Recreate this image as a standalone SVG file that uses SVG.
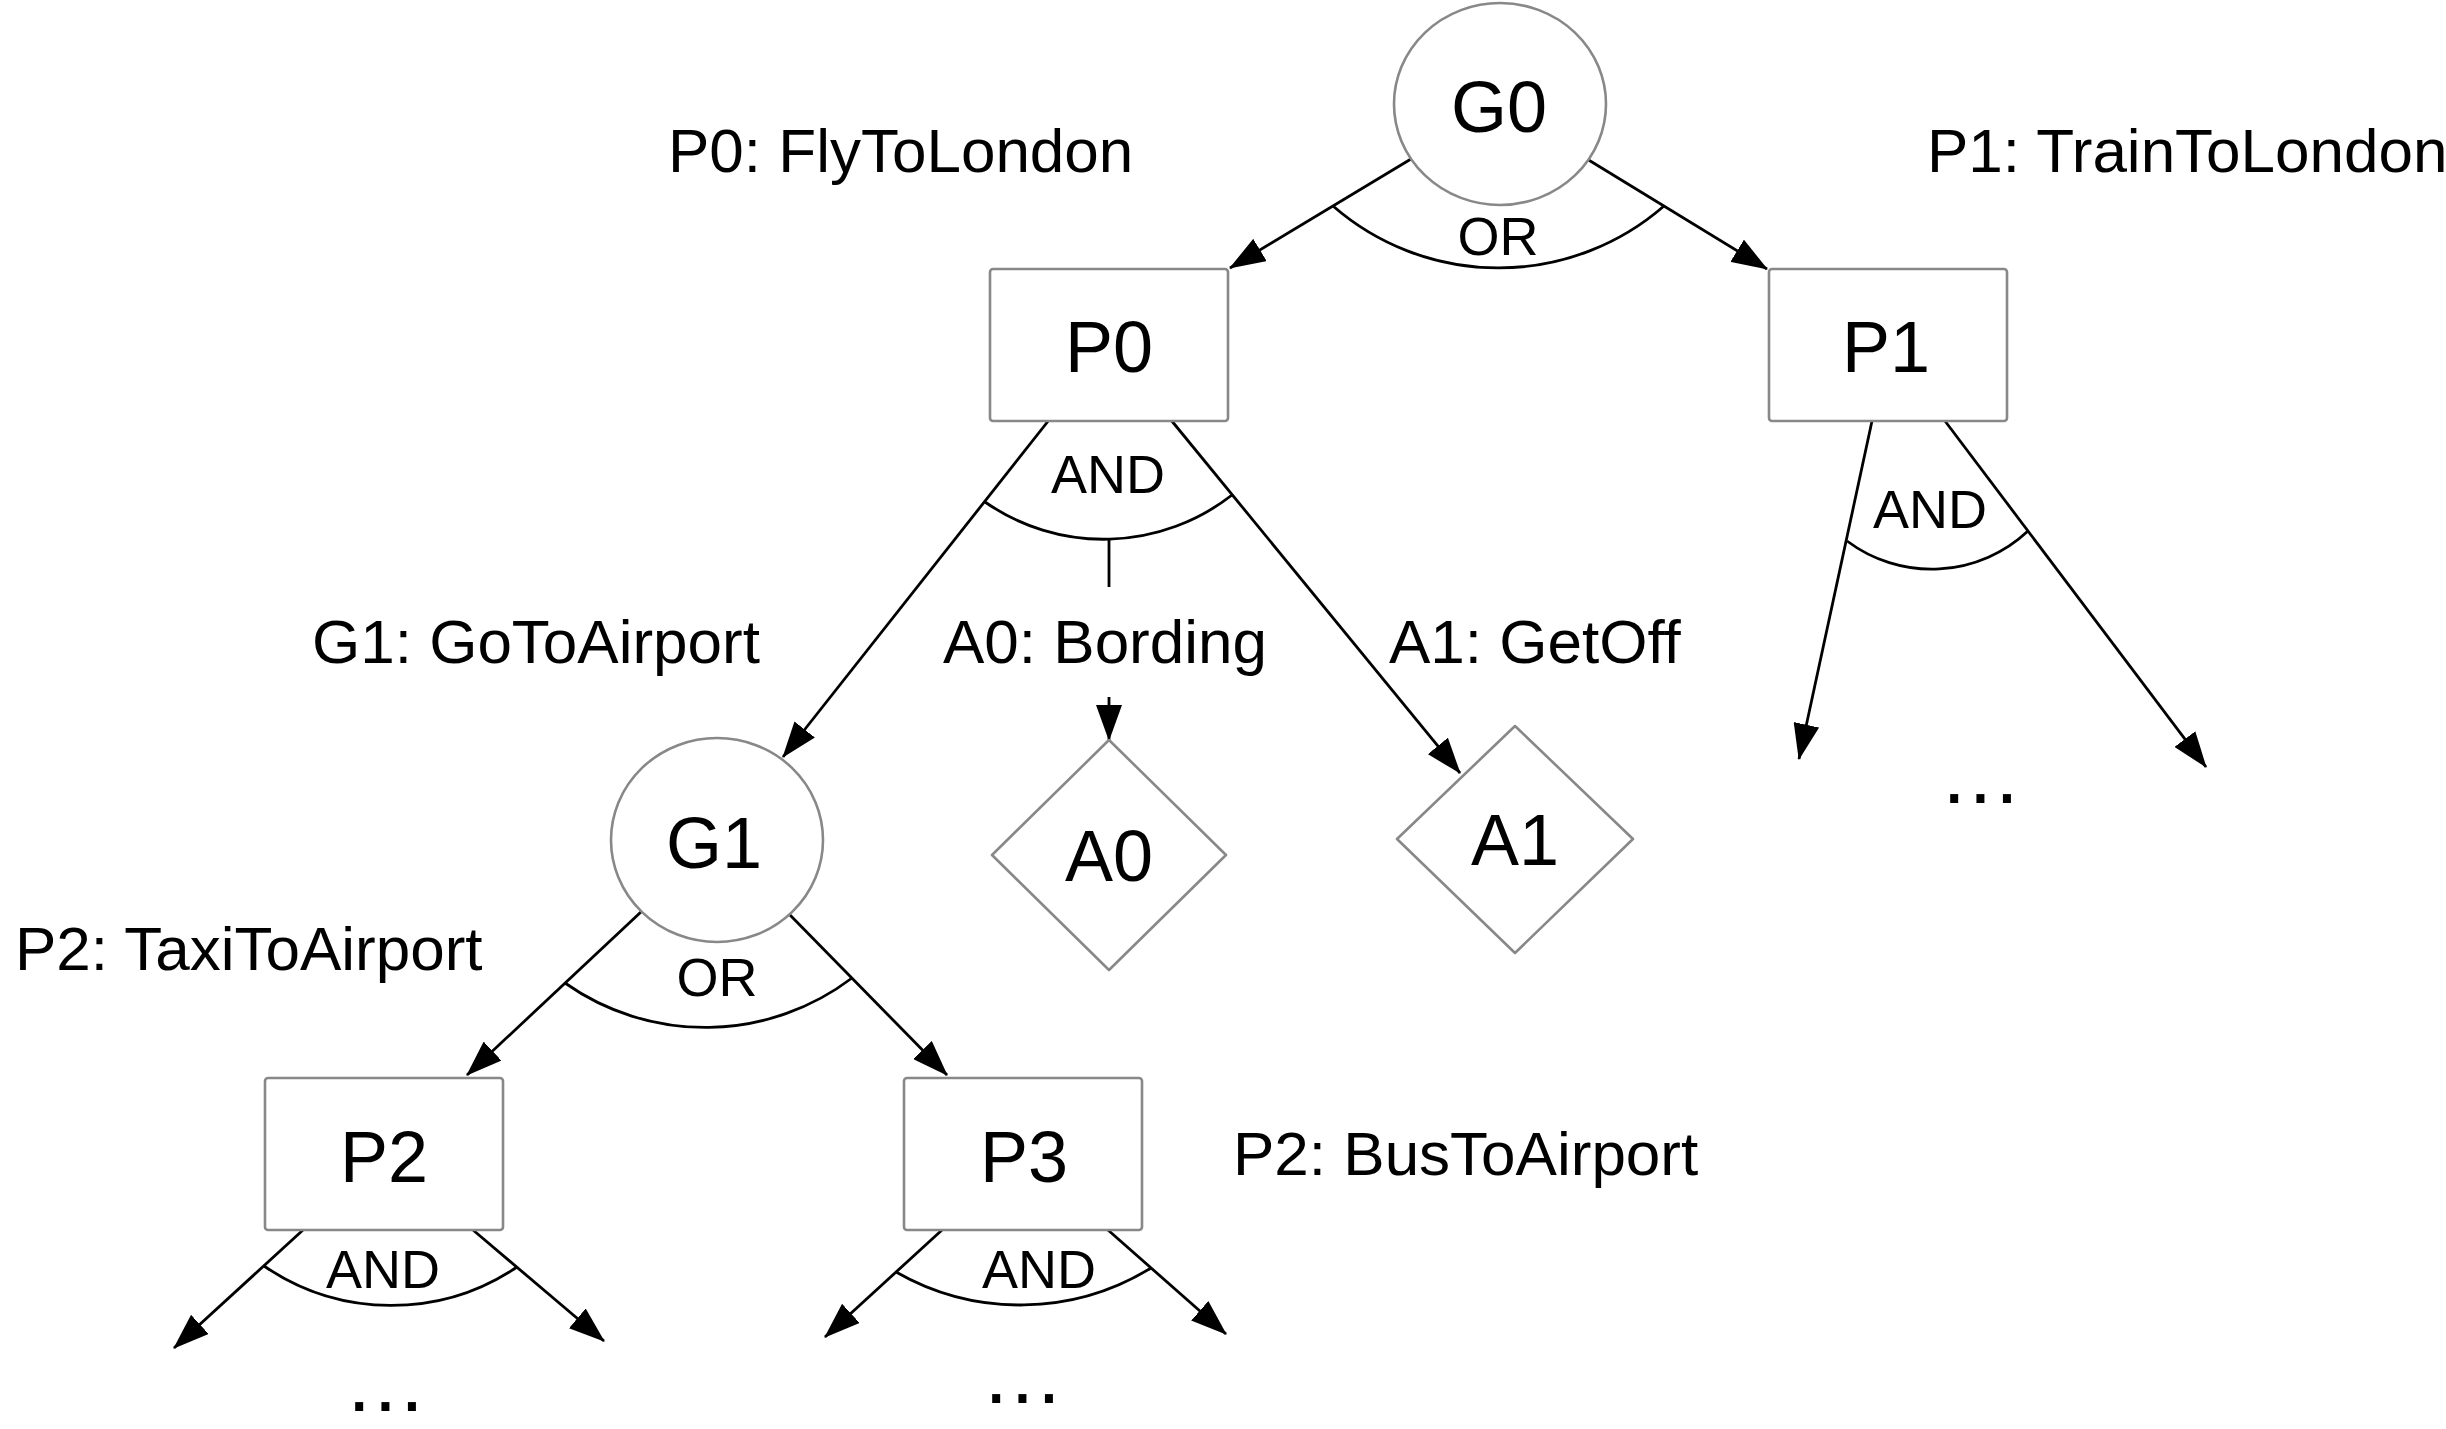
<svg xmlns="http://www.w3.org/2000/svg" width="2446" height="1429" viewBox="0 0 2446 1429">
  <style>
    text { font-family: "Liberation Sans", Arial, Helvetica, sans-serif; fill: #000; }
    .node { fill: #fff; stroke: #888; stroke-width: 2.6; stroke-linejoin: round; }
    .name { font-size: 72px; text-anchor: middle; }
    .desc { font-size: 62px; }
    .gate { font-size: 54px; text-anchor: middle; }
    .more { font-size: 84px; letter-spacing: 3px; text-anchor: middle; }
    .edge { fill: none; stroke: #000; stroke-width: 2.8; }
    .arrow { marker-end: url(#head); }
  </style>
  <defs>
    <marker id="head" markerUnits="userSpaceOnUse" viewBox="0 0 36 26" markerWidth="36" markerHeight="26" refX="35" refY="13" orient="auto">
      <path d="M0,0 L36,13 L0,26 z" fill="#000"/>
    </marker>
  </defs>

  <rect width="2446" height="1429" fill="#fff"/>

  <!-- connectors: decomposition edges, AND/OR arcs and their labels -->
  <g id="connectors">
    <!-- G0 (OR) -->
    <line class="edge arrow" x1="1411" y1="159" x2="1230" y2="268"/>
    <line class="edge arrow" x1="1587" y1="159" x2="1767" y2="269"/>
    <path class="edge" d="M1333,206 A252,252 0 0 0 1664,206"/>
    <text class="gate" x="1498" y="255">OR</text>

    <!-- P0 (AND) -->
    <line class="edge arrow" x1="1049" y1="420" x2="783" y2="757"/>
    <line class="edge" x1="1109" y1="539" x2="1109" y2="587"/>
    <line class="edge arrow" x1="1109" y1="697" x2="1109" y2="740"/>
    <line class="edge arrow" x1="1171" y1="420" x2="1460" y2="773"/>
    <path class="edge" d="M985,502 A208,208 0 0 0 1232,495"/>
    <text class="gate" x="1108" y="493">AND</text>

    <!-- P1 (AND) -->
    <line class="edge arrow" x1="1872" y1="421" x2="1799" y2="759"/>
    <line class="edge arrow" x1="1945" y1="421" x2="2206" y2="767"/>
    <path class="edge" d="M1847,541 A141,141 0 0 0 2028,531"/>
    <text class="gate" x="1930" y="528">AND</text>

    <!-- G1 (OR) -->
    <line class="edge arrow" x1="642" y1="911" x2="467" y2="1075"/>
    <line class="edge arrow" x1="790" y1="915" x2="947" y2="1075"/>
    <path class="edge" d="M565,983 A243,243 0 0 0 852,978"/>
    <text class="gate" x="717" y="996">OR</text>

    <!-- P2 (AND) -->
    <line class="edge arrow" x1="303" y1="1230" x2="174" y2="1348"/>
    <line class="edge arrow" x1="473" y1="1230" x2="604" y2="1341"/>
    <path class="edge" d="M264,1266 A225,225 0 0 0 517,1267"/>
    <text class="gate" x="383" y="1288">AND</text>

    <!-- P3 (AND) -->
    <line class="edge arrow" x1="942" y1="1230" x2="825" y2="1337"/>
    <line class="edge arrow" x1="1108" y1="1230" x2="1226" y2="1334"/>
    <path class="edge" d="M896,1272 A250,250 0 0 0 1151,1268"/>
    <text class="gate" x="1039" y="1288">AND</text>
  </g>

  <!-- goal nodes -->
  <g id="G0">
    <ellipse class="node" cx="1500" cy="104" rx="106" ry="101"/>
    <text class="name" x="1499" y="132">G0</text>
  </g>
  <g id="G1">
    <ellipse class="node" cx="717" cy="840" rx="106" ry="102"/>
    <text class="name" x="714" y="868">G1</text>
  </g>

  <!-- plan nodes -->
  <g id="P0">
    <rect class="node" x="990" y="269" width="238" height="152" rx="3"/>
    <text class="name" x="1109" y="372">P0</text>
  </g>
  <g id="P1">
    <rect class="node" x="1769" y="269" width="238" height="152" rx="3"/>
    <text class="name" x="1886" y="372">P1</text>
  </g>
  <g id="P2">
    <rect class="node" x="265" y="1078" width="238" height="152" rx="3"/>
    <text class="name" x="384" y="1182">P2</text>
  </g>
  <g id="P3">
    <rect class="node" x="904" y="1078" width="238" height="152" rx="3"/>
    <text class="name" x="1024" y="1182">P3</text>
  </g>

  <!-- action nodes -->
  <g id="A0">
    <path class="node" d="M1109,740 L1226,855 L1109,970 L992,855 Z"/>
    <text class="name" x="1109" y="881">A0</text>
  </g>
  <g id="A1">
    <path class="node" d="M1515,726 L1633,839 L1515,953 L1397,839 Z"/>
    <text class="name" x="1515" y="865">A1</text>
  </g>

  <!-- descriptions -->
  <g id="labels">
    <text class="desc" x="668" y="172">P0: FlyToLondon</text>
    <text class="desc" x="1927" y="172">P1: TrainToLondon</text>
    <text class="desc" x="312" y="663">G1: GoToAirport</text>
    <text class="desc" x="943" y="663">A0: Bording</text>
    <text class="desc" x="1389" y="663">A1: GetOff</text>
    <text class="desc" x="15" y="970">P2: TaxiToAirport</text>
    <text class="desc" x="1233" y="1175">P2: BusToAirport</text>
  </g>

  <!-- elided subtrees -->
  <g id="ellipses">
    <text class="more" x="1982" y="803">...</text>
    <text class="more" x="387" y="1411">...</text>
    <text class="more" x="1024" y="1403">...</text>
  </g>
</svg>
